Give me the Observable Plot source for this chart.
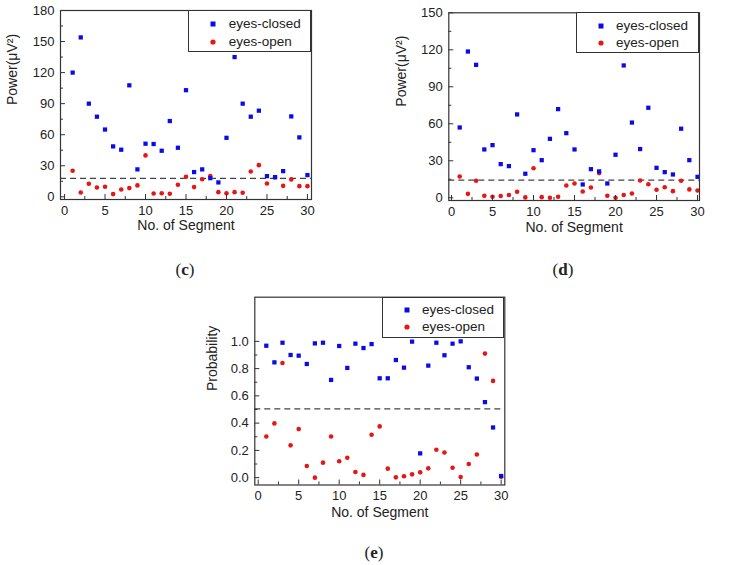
<!DOCTYPE html>
<html>
<head>
<meta charset="utf-8">
<script src="https://cdn.jsdelivr.net/npm/d3@7"></script>
<script src="https://cdn.jsdelivr.net/npm/@observablehq/plot@0.6"></script>
<style>
  html, body { margin: 0; padding: 0; background: #fff; }
  #root { position: relative; width: 755px; height: 565px; font-family: "Liberation Sans", Arial, sans-serif; color: #222; }
  .panel { position: absolute; }
  .legend { position: absolute; box-sizing: border-box; border: 1.2px solid #333; background: #fff; font-size: 13.5px; }
  .legend .item { position: absolute; line-height: 16px; transform: translateY(-50%); white-space: nowrap; }
  .legend .mk { position: absolute; transform: translate(-50%, -50%); }
  .tag { position: absolute; font-family: "Liberation Serif", "DejaVu Serif", serif; font-size: 17px; transform: translate(-50%, -50%); white-space: nowrap; }
</style>
</head>
<body>
<div id="root"></div>
<script>
// ---------- data ----------
const segments = [1,2,3,4,5,6,7,8,9,10,11,12,13,14,15,16,17,18,19,20,21,22,23,24,25,26,27,28,29,30];
const seriesNames = ["eyes-closed", "eyes-open"];

// panel (c): power
const cClosed = [120,154,90,77.4,65,48.7,45.5,107.7,26.5,51.3,51,44.5,73.2,47.4,103,23.9,26.5,18,13.9,57,135,90,77.4,83.2,20,19,24.8,77.7,57.4,21];
const cOpen   = [25.2,4.2,12.6,9,9.7,2.6,7.1,8.4,11,40,3.2,3.5,2.9,11.6,19.4,9.4,17,20,4.5,3.5,4.5,3.9,24.5,30.6,12.9,18.7,10.6,16.8,10.3,10.3];
const cThreshold = 17.8;
const cYTicks = [0,30,60,90,120,150,180];
const cYMinor = [15,45,75,105,135,165];

// panel (d): power
const dClosed = [57,118.6,107.8,39.2,42.7,27.3,25.7,67.6,19.5,38.6,30.5,47.8,71.9,52.4,39.2,10.8,23.2,21.4,11.6,34.9,107.3,61,39.5,73,24.3,20.8,18.9,56,30.5,17];
const dOpen   = [17.3,3.2,13.8,1.6,0.8,1.4,2.2,4.9,0.3,24,0.5,0,0.8,10,11.6,5.1,8.4,20,1.6,0,2.2,3.5,14,11,6.5,8.6,5.4,13.8,6.8,5.9];
const dThreshold = 14.3;
const dYTicks = [0,30,60,90,120,150];
const dYMinor = [15,45,75,105,135];

// panel (e): probability
const eClosed = [0.968,0.846,0.99,0.9,0.895,0.834,0.985,0.99,0.717,0.966,0.805,0.983,0.951,0.98,0.729,0.729,0.863,0.807,0.998,0.178,0.822,0.99,0.898,0.983,1.0,0.81,0.727,0.554,0.368,0.012];
const eOpen   = [0.302,0.398,0.841,0.237,0.356,0.085,0.0,0.11,0.302,0.12,0.146,0.041,0.02,0.315,0.376,0.066,0.002,0.01,0.024,0.039,0.068,0.205,0.185,0.073,0.005,0.1,0.17,0.91,0.71,0.007];
const eThreshold = 0.505;
const eYTicks = [0,0.2,0.4,0.6,0.8,1.0];
const eYMinor = [0.1,0.3,0.5,0.7,0.9];

const xTicks = [0,5,10,15,20,25,30];
const xMinor = [2.5,7.5,12.5,17.5,22.5,27.5];

const BLUE = "#0b0be8";
const RED = "#e81515";
const INK = "#333";

const root = document.getElementById("root");

function panel(o) {
  const fw = o.width - o.ml - o.mr;
  const fh = o.height - o.mt - o.mb;
  const closed = segments.map((s, i) => ({seg: s, v: o.closed[i]}));
  const open = segments.map((s, i) => ({seg: s, v: o.open[i]}));
  const svg = Plot.plot({
    width: o.width,
    height: o.height,
    marginLeft: o.ml, marginRight: o.mr, marginTop: o.mt, marginBottom: o.mb,
    style: {fontFamily: '"Liberation Sans", Arial, sans-serif', fontSize: "13px", color: "#222", background: "transparent", overflow: "visible"},
    x: {domain: o.xDomain},
    y: {domain: o.yDomain},
    marks: [
      Plot.ruleY([o.threshold], {stroke: "#444", strokeWidth: 1.2, strokeDasharray: "6,4"}),
      Plot.dot(open, {x: "seg", y: "v", r: 2.3, fill: RED, symbol: "circle"}),
      Plot.dot(closed, {x: "seg", y: "v", r: 2.4, fill: BLUE, symbol: "square"}),
      Plot.tickY(o.yTicks, {y: d => d, insetRight: fw - 5, stroke: INK}),
      Plot.tickY(o.yMinor, {y: d => d, insetRight: fw - 3, stroke: INK}),
      Plot.tickX(xTicks, {x: d => d, insetTop: fh - 5, stroke: INK}),
      Plot.tickX(xMinor, {x: d => d, insetTop: fh - 3, stroke: INK}),
      Plot.axisX({ticks: xTicks, tickSize: 0, tickPadding: 6, tickFormat: d => String(d), label: null, fontSize: 13}),
      Plot.axisY({ticks: o.yTicks, tickSize: 0, tickPadding: 6, tickFormat: o.yFormat, label: null, fontSize: 13}),
      Plot.frame({stroke: INK, strokeWidth: 1.2}),
      Plot.text(["No. of Segment"], {frameAnchor: "bottom", dy: o.xLabelDy, fontSize: 14, fill: "#222", text: d => d}),
      Plot.text([o.yLabel], {frameAnchor: "left", dx: -o.yLabelDx, rotate: -90, fontSize: 14, fill: "#222", text: d => d})
    ]
  });
  const wrap = document.createElement("div");
  wrap.className = "panel";
  wrap.style.left = o.left + "px";
  wrap.style.top = o.top + "px";
  wrap.appendChild(svg);
  root.appendChild(wrap);

  // legend box (inside the frame, top-right)
  const lg = document.createElement("div");
  lg.className = "legend";
  const L = o.legend;
  lg.style.left = L.x + "px";
  lg.style.top = L.y + "px";
  lg.style.width = L.w + "px";
  lg.style.height = L.h + "px";
  const shapes = [
    `<svg width="6" height="6"><rect x="0.5" y="0.5" width="5" height="5" fill="${BLUE}"/></svg>`,
    `<svg width="6" height="6"><circle cx="3" cy="3" r="2.6" fill="${RED}"/></svg>`
  ];
  seriesNames.forEach((name, i) => {
    const cy = L.rows[i];
    const mk = document.createElement("div");
    mk.className = "mk";
    mk.style.left = L.mx + "px";
    mk.style.top = cy + "px";
    mk.style.lineHeight = "0";
    mk.innerHTML = shapes[i];
    lg.appendChild(mk);
    const t = document.createElement("div");
    t.className = "item";
    t.style.left = L.tx + "px";
    t.style.top = cy + "px";
    t.textContent = name;
    lg.appendChild(t);
  });
  root.appendChild(lg);

  const tag = document.createElement("div");
  tag.className = "tag";
  tag.style.left = o.tag.x + "px";
  tag.style.top = o.tag.y + "px";
  tag.innerHTML = `(<b>${o.tag.letter}</b>)`;
  root.appendChild(tag);
}

const fmt0 = d => String(d);
const fmt1 = d3.format(".1f");

panel({
  left: 0, top: 0, width: 330, height: 245,
  ml: 60, mr: 19, mt: 10, mb: 46,
  xDomain: [-0.5, 30.5], yDomain: [-2.6, 180],
  yTicks: cYTicks, yMinor: cYMinor, yFormat: fmt0,
  closed: cClosed, open: cOpen, threshold: cThreshold,
  yLabel: "Power(μV²)", yLabelDx: 47.5, xLabelDy: 30,
  legend: {x: 188.3, y: 10, w: 122.7, h: 41.5, mx: 24, tx: 39.4, rows: [13.3, 30.7]},
  tag: {x: 185, y: 270, letter: "c"}
});

panel({
  left: 380, top: 0, width: 330, height: 245,
  ml: 68.3, mr: 11, mt: 12.3, mb: 45,
  xDomain: [-0.33, 30.24], yDomain: [-2.2, 150],
  yTicks: dYTicks, yMinor: dYMinor, yFormat: fmt0,
  closed: dClosed, open: dOpen, threshold: dThreshold,
  yLabel: "Power(μV²)", yLabelDx: 47.3, xLabelDy: 31,
  legend: {x: 576, y: 12.3, w: 123, h: 40.7, mx: 24, tx: 39, rows: [12.4, 29.7]},
  tag: {x: 563, y: 270, letter: "d"}
});

panel({
  left: 195, top: 280, width: 330, height: 250,
  ml: 59.3, mr: 20.7, mt: 16.7, mb: 45.5,
  xDomain: [-0.42, 30.45], yDomain: [-0.054, 1.324],
  yTicks: eYTicks, yMinor: eYMinor, yFormat: fmt1,
  closed: eClosed, open: eOpen, threshold: eThreshold,
  yLabel: "Probability", yLabelDx: 42.3, xLabelDy: 32,
  legend: {x: 382.3, y: 296.7, w: 122, h: 41, mx: 23.4, tx: 38.7, rows: [12.6, 29.3]},
  tag: {x: 374, y: 553, letter: "e"}
});
</script>
</body>
</html>
